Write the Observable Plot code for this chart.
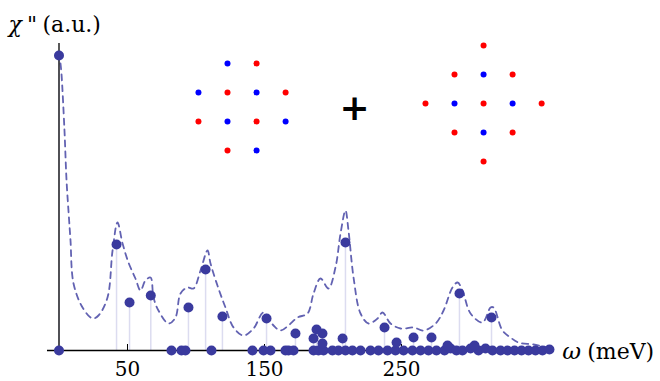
<!DOCTYPE html>
<html>
<head>
<meta charset="utf-8">
<script src="https://cdn.jsdelivr.net/npm/d3@7"></script>
<script src="https://cdn.jsdelivr.net/npm/@observablehq/plot@0.6"></script>
<style>
  html, body { margin: 0; padding: 0; background: #fff; }
  #chart { width: 660px; height: 381px; }
</style>
</head>
<body>
<div id="chart"></div>
<script>
// Stick spectrum: peaks with nonzero weight
const peakOmega = [0, 42, 51.5, 67, 94.5, 107, 119.3, 151.5, 172.6, 185.8, 188, 192.3, 192.3, 207, 209.1, 237.6, 246.4, 258.8, 271.9, 283.6, 292.3, 303.3, 315.7];
const peakChi   = [2.95, 1.06, 0.48, 0.55, 0.43, 0.81, 0.34, 0.32, 0.17, 0.12, 0.21, 0.17, 0.07, 0.12, 1.08, 0.23, 0.08, 0.13, 0.13, 0.05, 0.57, 0.05, 0.33];

// Modes with (almost) zero weight
const baseOmega = [0, 82.1, 89.4, 92.3, 111.3, 141.2, 149.3, 154.4, 165.3, 167.5, 171.2, 185.8, 189.4, 193.1, 199.6, 204, 209.1, 214.2, 220.1, 227.4, 233.2, 239.8, 245.6, 251.5, 258, 263.9, 269.7, 275.5, 281.4, 285.8, 290.1, 294.5, 300.4, 306.2, 311.3, 316.4, 322.3, 327.4, 332.5, 337.6, 342.7, 347.8, 352.9, 358];
const baseChi   = [0, 0, 0, 0, 0, 0, 0, 0, 0, 0, 0, 0, 0, 0, 0, 0, 0, 0, 0, 0, 0, 0, 0, 0, 0, 0, 0, 0, 0, 0.02, 0, 0, 0.02, 0, 0.02, 0, 0, 0, 0, 0, 0, 0, 0, 0.01];

// Broadened spectrum (dashed)
const curveOmega = [1.1, 1.8, 4.0, 5.5, 7.4, 8.4, 10.6, 17.2, 24.5, 28.8, 35.4, 39.1, 42.7, 46.4, 50.7, 55.8, 59.5, 63.1, 66.8, 69.0, 72.6, 80.0, 85.0, 88.7, 93.8, 98.2, 103.3, 108.4, 110.6, 116.4, 121.5, 127.4, 134.7, 142.0, 149.3, 156.6, 161.7, 167.5, 174.1, 181.4, 185.8, 190.9, 196.7, 201.8, 205.5, 209.1, 211.3, 215.0, 220.1, 226.0, 232.5, 236.1, 242.0, 249.3, 258.8, 266.1, 274.9, 280.7, 287.2, 290.9, 294.5, 300.4, 309.1, 315.0, 317.2, 323.7, 329.6, 335.4, 346.4, 356.6];
const curveChi   = [2.87, 2.77, 2.20, 1.70, 1.30, 1.10, 0.67, 0.43, 0.32, 0.35, 0.53, 1.00, 1.28, 1.07, 0.88, 0.72, 0.60, 0.70, 0.73, 0.53, 0.40, 0.27, 0.33, 0.57, 0.63, 0.62, 0.80, 1.00, 0.87, 0.62, 0.43, 0.23, 0.15, 0.22, 0.38, 0.25, 0.20, 0.25, 0.33, 0.37, 0.57, 0.72, 0.62, 0.83, 1.17, 1.40, 1.20, 0.73, 0.37, 0.27, 0.32, 0.38, 0.27, 0.22, 0.23, 0.20, 0.27, 0.40, 0.63, 0.68, 0.60, 0.37, 0.28, 0.43, 0.43, 0.20, 0.13, 0.08, 0.06, 0.03];

const xTicks = [50, 150, 250];

// Inset lattices: grid indices (column, row) and spin colour
const latticeACol = [-0.5, 0.5, -1.5, -0.5, 0.5, 1.5, -1.5, -0.5, 0.5, 1.5, -0.5, 0.5];
const latticeARow = [1.5, 1.5, 0.5, 0.5, 0.5, 0.5, -0.5, -0.5, -0.5, -0.5, -1.5, -1.5];
const latticeAClr = ["blue", "red", "blue", "red", "blue", "red", "red", "blue", "red", "blue", "red", "blue"];
const latticeBCol = [0, -1, 0, 1, -2, -1, 0, 1, 2, -1, 0, 1, 0];
const latticeBRow = [2, 1, 1, 1, 0, 0, 0, 0, 0, -1, -1, -1, -2];
const latticeBClr = ["red", "red", "blue", "red", "red", "blue", "red", "blue", "red", "red", "blue", "red", "red"];

const peaks = peakOmega.map((w, i) => ({w, c: peakChi[i]}));
const base = baseOmega.map((w, i) => ({w, c: baseChi[i]}));
const curve = curveOmega.map((w, i) => ({w, c: curveChi[i]}));

// inset placement (in chart coordinates)
const cellW = 21.2, cellH = 0.29;
const sites = [
  ...latticeACol.map((i, k) => ({w: 133.6 + i * cellW, c: 2.435 + latticeARow[k] * cellH, col: latticeAClr[k]})),
  ...latticeBCol.map((i, k) => ({w: 309.9 + i * cellW, c: 2.47 + latticeBRow[k] * cellH, col: latticeBClr[k]}))
];

const dotColor = "#3a3a9e";
const serif = "DejaVu Serif";

const chart = Plot.plot({
  width: 660,
  height: 381,
  marginLeft: 58.5,
  marginRight: 108.3,
  marginTop: 43,
  marginBottom: 31,
  x: {domain: [0, 360], axis: null},
  y: {domain: [0, 3.07], axis: null},
  color: {type: "identity"},
  style: {background: "white", overflow: "visible"},
  marks: [
    Plot.ruleX(peaks, {x: "w", y1: 0, y2: "c", stroke: "#dcdcf0", strokeWidth: 1.5}),
    Plot.line(curve, {x: "w", y: "c", curve: "catmull-rom", stroke: "#6262b2", strokeWidth: 1.8, strokeDasharray: "6,5"}),
    Plot.ruleY([0], {x1: -8.4, x2: 360, stroke: "black", strokeWidth: 1.3}),
    Plot.ruleX([0], {y1: 0, y2: 3.07, stroke: "black", strokeWidth: 1.3}),
    Plot.ruleX(xTicks, {y1: 0, y2: 0.06, stroke: "black", strokeWidth: 1}),
    Plot.text(xTicks, {x: d => d, y: 0, text: d => String(d), dy: 25, lineAnchor: "bottom", fontSize: 20, fontFamily: serif, fill: "black"}),
    Plot.dot(base, {x: "w", y: "c", r: 5, fill: dotColor, stroke: "none"}),
    Plot.dot(peaks, {x: "w", y: "c", r: 5, fill: dotColor, stroke: "none"}),
    Plot.dot(sites, {x: "w", y: "c", r: 3, fill: d => d.col === "red" ? "#ff0000" : "#0000ff", stroke: "none"}),
    Plot.text(["+"], {x: 215.7, y: 2.42, text: d => d, fontSize: 36, fontWeight: "bold", fontFamily: "DejaVu Sans", fill: "black", lineAnchor: "middle"}),
    Plot.text(["χ"], {frameAnchor: "top-left", dx: -50.5, dy: -12, lineAnchor: "bottom", textAnchor: "start", fontSize: 22, fontStyle: "italic", fontFamily: serif, fill: "black"}),
    Plot.text(["\""], {frameAnchor: "top-left", dx: -32, dy: -12, lineAnchor: "bottom", textAnchor: "start", fontSize: 22, fontFamily: serif, fill: "black"}),
    Plot.text(["(a.u.)"], {frameAnchor: "top-left", dx: -16.5, dy: -12, lineAnchor: "bottom", textAnchor: "start", fontSize: 22, fontFamily: serif, fill: "black"}),
    Plot.text(["ω"], {frameAnchor: "bottom-right", dx: 10, dy: 8, lineAnchor: "bottom", textAnchor: "start", fontSize: 23, fontStyle: "italic", fontFamily: serif, fill: "black"}),
    Plot.text(["(meV)"], {frameAnchor: "bottom-right", dx: 35, dy: 8, lineAnchor: "bottom", textAnchor: "start", fontSize: 22, fontFamily: serif, fill: "black"})
  ]
});
document.getElementById("chart").appendChild(chart);
</script>
</body>
</html>
